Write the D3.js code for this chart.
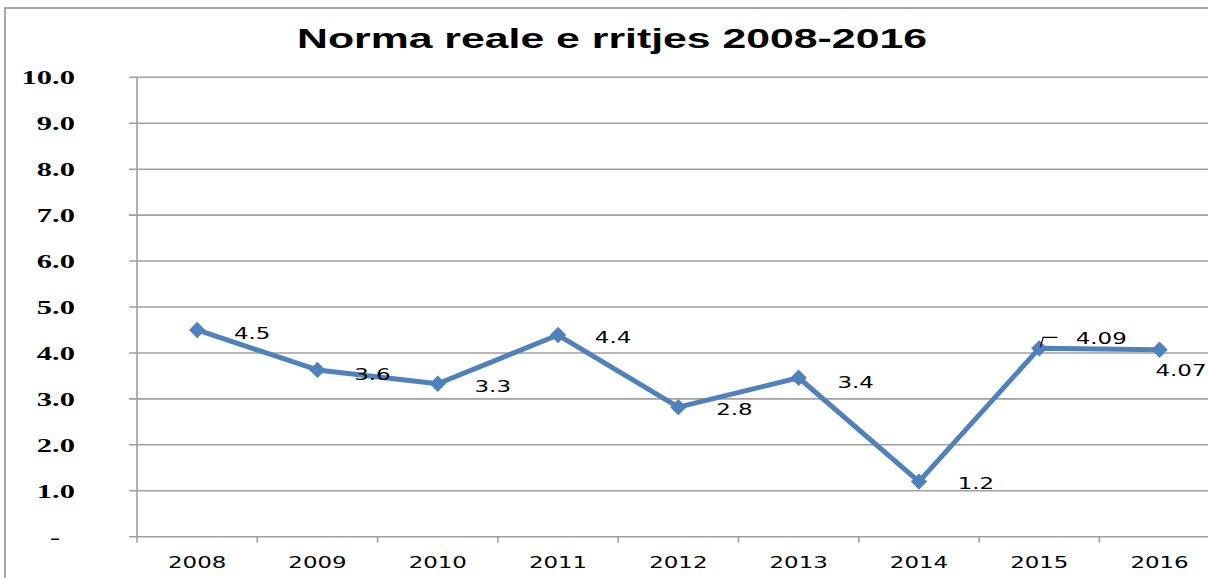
<!DOCTYPE html>
<html>
<head>
<meta charset="utf-8">
<script src="https://cdn.jsdelivr.net/npm/d3@7/dist/d3.min.js"></script>
<style>
  body { margin: 0; background: #fff; }
  svg { display: block; }
</style>
</head>
<body>
<div id="container"></div>
<script>
// data
let years = ["2008", "2009", "2010", "2011", "2012", "2013", "2014", "2015", "2016"];
let growth = [4.5, 3.63, 3.33, 4.39, 2.82, 3.46, 1.2, 4.1, 4.07];
let growthLabels = ["4.5", "3.6", "3.3", "4.4", "2.8", "3.4", "1.2", "4.09", "4.07"];
let yTicks = [0, 1, 2, 3, 4, 5, 6, 7, 8, 9, 10];
let title = "Norma reale e rritjes 2008-2016";

let w = 1208;
let h = 578;

let viz = d3.select("#container")
  .append("svg")
    .attr("width", w)
    .attr("height", h)
    .style("background-color", "#fff");

// outer chart border (runs off the right and bottom edge)
viz.append("rect")
  .attr("x", 5).attr("y", 8)
  .attr("width", 1220).attr("height", 600)
  .attr("fill", "none")
  .attr("stroke", "#a6a6a6")
  .attr("stroke-width", 2);

let x = d3.scaleBand().domain(years).range([137, 137 + 9 * 120.3]);
let y = d3.scaleLinear().domain([0, 10]).range([536.7, 77.3]);

// horizontal gridlines
viz.selectAll(".grid")
  .data(yTicks.filter(d => d > 0))
  .enter()
  .append("line")
    .attr("class", "grid")
    .attr("x1", 129).attr("x2", w)
    .attr("y1", d => y(d)).attr("y2", d => y(d))
    .attr("stroke", "#a0a0a0")
    .attr("stroke-width", 1.6);

// x axis line + ticks
viz.append("line")
  .attr("x1", 129).attr("x2", w)
  .attr("y1", y(0)).attr("y2", y(0))
  .attr("stroke", "#a0a0a0").attr("stroke-width", 1.6);

viz.selectAll(".xtick")
  .data(years.slice(1))
  .enter()
  .append("line")
    .attr("x1", d => x(d)).attr("x2", d => x(d))
    .attr("y1", y(0)).attr("y2", y(0) + 6)
    .attr("stroke", "#a0a0a0").attr("stroke-width", 1.6);

// y axis line
viz.append("line")
  .attr("x1", 137).attr("x2", 137)
  .attr("y1", y(10)).attr("y2", y(0) + 6)
  .attr("stroke", "#a0a0a0").attr("stroke-width", 1.6);

// y labels (bold serif, stretched wide like the original)
// zero shows as an accounting dash, sitting left of the number column
viz.selectAll(".ylab")
  .data(yTicks)
  .enter()
  .append("g")
    .attr("transform", d => "translate(" + (d === 0 ? 55 : 75) + "," + (y(d) + 7) + ") scale(1.65,1)")
  .append("text")
    .attr("text-anchor", d => d === 0 ? "middle" : "end")
    .style("font-family", "'Liberation Serif', 'Times New Roman', serif")
    .style("font-weight", "bold")
    .style("font-size", "18.5px")
    .attr("fill", "#000")
    .text(d => d === 0 ? "-" : d3.format(".1f")(d));

// x labels
viz.selectAll(".xlab")
  .data(years)
  .enter()
  .append("g")
    .attr("transform", d => "translate(" + (x(d) + x.bandwidth() / 2) + ",568) scale(1.43,1)")
  .append("text")
    .attr("text-anchor", "middle")
    .style("font-family", "'DejaVu Sans', Verdana, sans-serif")
    .style("font-size", "16px")
    .attr("fill", "#000")
    .text(d => d);

// title
viz.append("text")
  .attr("x", 297).attr("y", 48)
  .attr("textLength", 630)
  .attr("lengthAdjust", "spacingAndGlyphs")
  .style("font-family", "'Liberation Sans', Arial, sans-serif")
  .style("font-weight", "bold")
  .style("font-size", "28px")
  .attr("fill", "#000")
  .text(title);

// line
let line = d3.line()
  .x((d, i) => x(years[i]) + x.bandwidth() / 2)
  .y(d => y(d));

viz.append("path")
  .datum(growth)
  .attr("d", line)
  .attr("fill", "none")
  .attr("stroke", "#4f81bd")
  .attr("stroke-width", 5)
  .attr("stroke-linejoin", "round");

// diamond markers
viz.selectAll(".marker")
  .data(growth)
  .enter()
  .append("path")
    .attr("d", d3.symbol().type(d3.symbolDiamond2).size(170))
    .attr("transform", (d, i) => "translate(" + (x(years[i]) + x.bandwidth() / 2) + "," + y(d) + ")")
    .attr("fill", "#4f81bd");

// data labels: mostly right of the point; last two placed by hand in the original
let labelOffsets = [[55, 9], [55, 10], [55, 8], [55, 8], [56, 8], [57, 10], [57, 7], [62, -4], [-4, 26]];
let labelAnchors = ["middle", "middle", "middle", "middle", "middle", "middle", "middle", "middle", "start"];

viz.selectAll(".dlab")
  .data(growth)
  .enter()
  .append("g")
    .attr("transform", (d, i) => "translate(" + (x(years[i]) + x.bandwidth() / 2 + labelOffsets[i][0]) + "," + (y(d) + labelOffsets[i][1]) + ") scale(1.43,1)")
  .append("text")
    .attr("text-anchor", (d, i) => labelAnchors[i])
    .style("font-family", "'DejaVu Sans', Verdana, sans-serif")
    .style("font-size", "16px")
    .attr("fill", "#000")
    .text((d, i) => growthLabels[i]);

// leader line for the 2015 label
let cx15 = x("2015") + x.bandwidth() / 2;
viz.append("path")
  .attr("d", "M" + (cx15 + 1) + "," + (y(growth[7]) - 1) + "L" + (cx15 + 4) + "," + (y(growth[7]) - 11) + "H" + (cx15 + 18))
  .attr("fill", "none")
  .attr("stroke", "#000")
  .attr("stroke-width", 1.2);
</script>
</body>
</html>
